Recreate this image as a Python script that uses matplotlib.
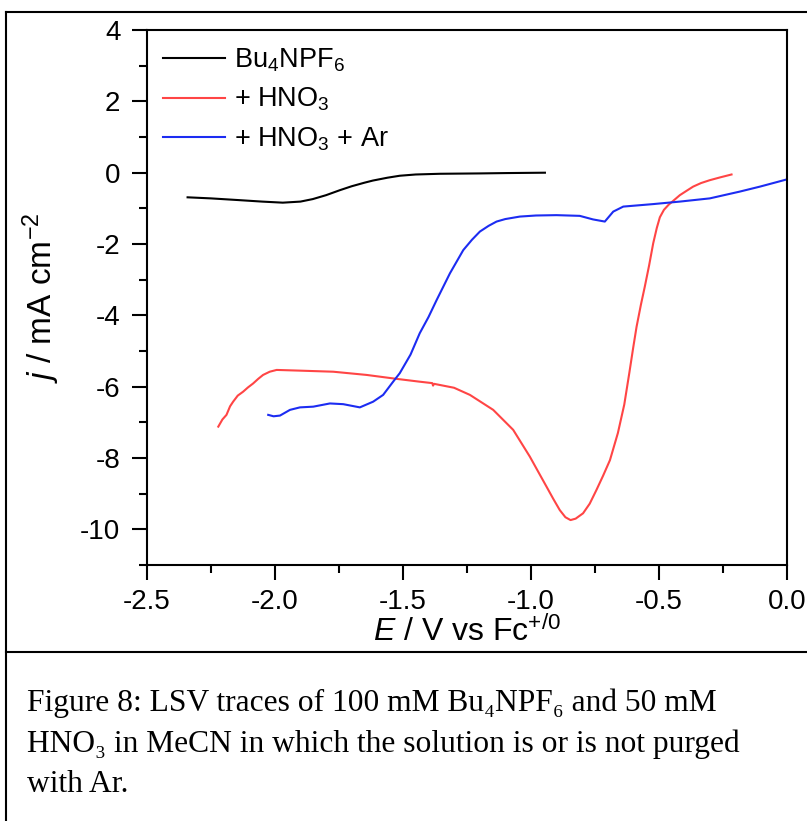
import matplotlib
matplotlib.use("Agg")
import matplotlib.pyplot as plt
from matplotlib.ticker import MultipleLocator
from matplotlib.lines import Line2D

plt.rcParams['font.family'] = ['Liberation Sans', 'DejaVu Sans']
plt.rcParams['axes.unicode_minus'] = False
plt.rcParams['mathtext.fontset'] = 'custom'
plt.rcParams['mathtext.rm'] = 'Liberation Sans'
plt.rcParams['mathtext.it'] = 'Liberation Sans:italic'

# Bu4NPF6 only
E_blank = [-2.341, -2.25, -2.137, -2.05, -1.969, -1.90, -1.852, -1.80, -1.746, -1.70,
           -1.65, -1.617, -1.56, -1.512, -1.45, -1.355, -1.20, -1.094, -0.945]
j_blank = [-0.69, -0.72, -0.77, -0.81, -0.84, -0.81, -0.74, -0.63, -0.49, -0.38,
           -0.28, -0.22, -0.14, -0.085, -0.05, -0.03, -0.02, -0.01, 0.0]

# + HNO3
E_acid = [-2.221, -2.205, -2.189, -2.175, -2.163, -2.145, -2.124, -2.105, -2.085, -2.065,
          -2.046, -2.02, -1.993, -1.902, -1.772, -1.642, -1.525, -1.434, -1.385, -1.382,
          -1.378, -1.30, -1.238, -1.147, -1.069, -1.004, -0.97, -0.939, -0.912, -0.887,
          -0.865, -0.845, -0.825, -0.796, -0.770, -0.744, -0.718, -0.691, -0.660, -0.635,
          -0.615, -0.600, -0.587, -0.570, -0.555, -0.538, -0.522, -0.508, -0.496, -0.480,
          -0.462, -0.444, -0.418, -0.39, -0.366, -0.335, -0.301, -0.26, -0.216]
j_acid = [-7.12, -6.92, -6.79, -6.55, -6.42, -6.25, -6.14, -6.02, -5.91, -5.78,
          -5.67, -5.58, -5.53, -5.55, -5.58, -5.67, -5.78, -5.86, -5.9, -5.97,
          -5.92, -6.03, -6.23, -6.65, -7.21, -7.96, -8.40, -8.80, -9.15, -9.46,
          -9.66, -9.74, -9.70, -9.55, -9.28, -8.90, -8.50, -8.06, -7.30, -6.50,
          -5.60, -4.90, -4.32, -3.70, -3.20, -2.60, -1.98, -1.55, -1.25, -1.04,
          -0.90, -0.79, -0.63, -0.50, -0.39, -0.29, -0.21, -0.13, -0.05]

# + HNO3 + Ar
E_ar = [-2.026, -2.005, -1.98, -1.941, -1.902, -1.85, -1.785, -1.733, -1.668, -1.616,
        -1.577, -1.538, -1.512, -1.47, -1.434, -1.40, -1.368, -1.316, -1.264, -1.23,
        -1.199, -1.165, -1.134, -1.10, -1.043, -0.98, -0.900, -0.809, -0.757, -0.711,
        -0.678, -0.639, -0.522, -0.418, -0.301, -0.184, -0.105, -0.001]
j_ar = [-6.79, -6.83, -6.81, -6.65, -6.58, -6.56, -6.47, -6.49, -6.58, -6.42,
        -6.23, -5.86, -5.62, -5.10, -4.50, -4.05, -3.57, -2.82, -2.17, -1.88,
        -1.65, -1.49, -1.37, -1.30, -1.23, -1.20, -1.19, -1.21, -1.31, -1.37,
        -1.09, -0.95, -0.88, -0.81, -0.72, -0.53, -0.39, -0.19]

labels = [r'Bu$_4$NPF$_6$', r'+ HNO$_3$', r'+ HNO$_3$ + Ar']
colors = ['black', '#ff4545', '#1c2cf2']

fig = plt.figure(figsize=(8.07, 8.21), dpi=100)
ax = fig.add_axes([0.182, 0.3118, 0.793, 0.6516])

ax.plot(E_blank, j_blank, color=colors[0], lw=1.5, label=labels[0])
ax.plot(E_acid, j_acid, color=colors[1], lw=1.5, label=labels[1])
ax.plot(E_ar, j_ar, color=colors[2], lw=1.5, label=labels[2])

ax.set_xlim(-2.5, 0.0)
ax.set_ylim(-11, 4)
ax.xaxis.set_major_locator(MultipleLocator(0.5))
ax.xaxis.set_minor_locator(MultipleLocator(0.25))
ax.yaxis.set_major_locator(MultipleLocator(2))
ax.yaxis.set_minor_locator(MultipleLocator(1))
ax.xaxis.set_major_formatter(plt.FuncFormatter(lambda v, p: '%.1f' % v))
ax.tick_params(which='major', direction='out', length=11, width=1.5, labelsize=20, pad=8)
ax.tick_params(axis='x', which='major', pad=6)
ax.tick_params(which='minor', direction='out', length=6, width=1.5)
for s in ax.spines.values():
    s.set_linewidth(1.5)

ax.set_xlabel(r'$E$ / V vs Fc$^{+/0}$', fontsize=23, labelpad=1)
ax.set_ylabel(r'$j$ / mA cm$^{-2}$', fontsize=24, labelpad=13)

ax.legend(loc='upper left', frameon=False, fontsize=19.5, handlelength=2.3,
          handletextpad=0.3, labelspacing=0.45, borderaxespad=0.2,
          bbox_to_anchor=(0.0, 1.0))

# figure border and caption
fig.add_artist(Line2D([6 / 807, 6 / 807], [0, 1 - 12 / 821], color='black', lw=1.5))
fig.add_artist(Line2D([6 / 807, 1], [1 - 12 / 821, 1 - 12 / 821], color='black', lw=1.5))
fig.add_artist(Line2D([6 / 807, 1], [1 - 652 / 821, 1 - 652 / 821], color='black', lw=1.5))

caption = ('Figure 8: LSV traces of 100 mM Bu\u2084NPF\u2086 and 50 mM\n'
           'HNO\u2083 in MeCN in which the solution is or is not purged\n'
           'with Ar.')
fig.text(27 / 807, 1 - 688 / 821, caption, ha='left', va='top', fontsize=22.7,
         family=['Liberation Serif', 'DejaVu Serif'], linespacing=1.52)

fig.savefig('out.png', dpi=100)
